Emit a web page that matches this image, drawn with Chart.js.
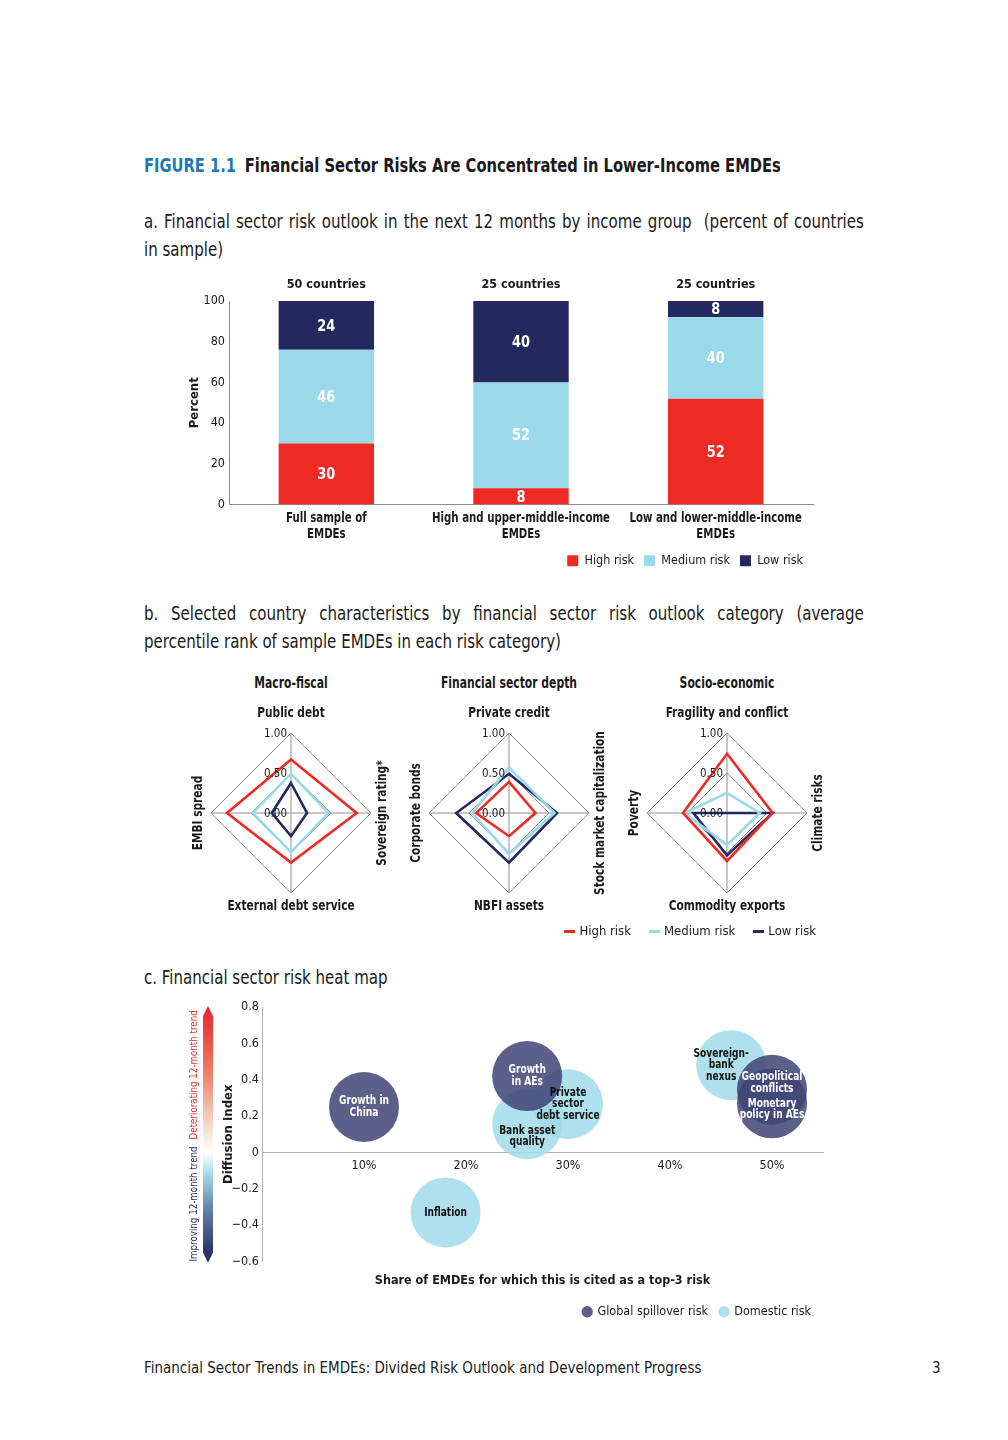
<!DOCTYPE html>
<html>
<head>
<meta charset="utf-8">
<script src="https://cdn.jsdelivr.net/npm/chart.js@4.4.1/dist/chart.umd.min.js"></script>
<style>
  body { margin: 0; width: 1008px; height: 1440px; background: #fff; position: relative; color: #1a1a1a;
         font-family: "DejaVu Sans Condensed", "Liberation Sans Narrow", sans-serif; }
  .abs { position: absolute; }
  .sq { transform-origin: 0 50%; }
  .title { left: 144px; top: 153px; font-size: 19px; line-height: 24px; font-weight: bold; white-space: nowrap; transform: scaleX(0.86); }
  .title span { color: #1f78b8; margin-right: 10px; }
  .sub { left: 144px; width: 818px; font-size: 19px; line-height: 28px; white-space: nowrap; transform: scaleX(0.88); }
  .just { text-align: justify; text-align-last: justify; }
  .head { width: 200px; text-align: center; font-size: 15px; line-height: 20px; font-weight: bold; top: 673px;
          transform-origin: 50% 50%; transform: scaleX(0.8); }
  .legb { top: 922px; right: 192px; font-size: 13px; line-height: 18px; display: flex; align-items: center; }
  .legb i { display: inline-block; width: 11px; height: 3px; margin: 0 4px 0 0; }
  .legb b { font-weight: normal; margin-right: 18px; }
  .foot { left: 144px; top: 1358px; font-size: 15px; line-height: 20px; }
  canvas { position: absolute; }
</style>
</head>
<body>

<div class="abs sq title"><span>FIGURE 1.1</span>Financial Sector Risks Are Concentrated in Lower-Income EMDEs</div>

<div class="abs sq sub just" style="top:207px">a. Financial sector risk outlook in the next 12 months by income group&nbsp; (percent of countries</div>
<div class="abs sq sub" style="top:235px">in sample)</div>

<div class="abs" style="left:180px;top:270px;width:650px;height:307px"><canvas id="barChart"></canvas></div>

<div class="abs sq sub just" style="top:599px">b. Selected country characteristics by financial sector risk outlook category (average</div>
<div class="abs sq sub" style="top:627px">percentile rank of sample EMDEs in each risk category)</div>

<div class="abs head" style="left:191px">Macro-fiscal</div>
<div class="abs head" style="left:409px">Financial sector depth</div>
<div class="abs head" style="left:627px">Socio-economic</div>

<div class="abs" style="left:182px;top:703px;width:218px;height:220px"><canvas id="radarMacro"></canvas></div>
<div class="abs" style="left:400px;top:703px;width:218px;height:220px"><canvas id="radarDepth"></canvas></div>
<div class="abs" style="left:618px;top:703px;width:218px;height:220px"><canvas id="radarSocio"></canvas></div>

<div class="abs legb">
  <i style="background:#ee2a24"></i><b>High risk</b>
  <i style="background:#9ad9ea"></i><b>Medium risk</b>
  <i style="background:#23285e"></i><b style="margin-right:0">Low risk</b>
</div>

<div class="abs sq sub" style="top:963px">c. Financial sector risk heat map</div>

<div class="abs" style="left:180px;top:995px;width:660px;height:333px"><canvas id="bubbleChart"></canvas></div>

<div class="abs foot">Financial Sector Trends in EMDEs: Divided Risk Outlook and Development Progress</div>
<div class="abs foot" style="left:932px">3</div>

<script>
const FONT = '"DejaVu Sans Condensed", "Liberation Sans Narrow", sans-serif';
Chart.defaults.font.family = FONT;
Chart.defaults.color = '#1a1a1a';
Chart.defaults.animation = false;

// ---- panel a data
const incomeGroups = [["Full sample of", "EMDEs"], ["High and upper-middle-income", "EMDEs"], ["Low and lower-middle-income", "EMDEs"]];
const sampleSizes = ["50 countries", "25 countries", "25 countries"];
const highRisk = [30, 8, 52];
const mediumRisk = [46, 52, 40];
const lowRisk = [24, 40, 8];
const percentTicks = [0, 20, 40, 60, 80, 100];

// ---- panel b data (average percentile rank)
const macroLabels = ["Public debt", "Sovereign rating*", "External debt service", "EMBI spread"];
const macroHigh = [0.67, 0.82, 0.62, 0.80];
const macroMedium = [0.49, 0.47, 0.49, 0.48];
const macroLow = [0.375, 0.20, 0.29, 0.24];

const depthLabels = ["Private credit", "Stock market capitalization", "NBFI assets", "Corporate bonds"];
const depthHigh = [0.39, 0.33, 0.29, 0.41];
const depthMedium = [0.57, 0.57, 0.51, 0.46];
const depthLow = [0.49, 0.60, 0.62, 0.66];

const socioLabels = ["Fragility and conflict", "Climate risks", "Commodity exports", "Poverty"];
const socioHigh = [0.74, 0.57, 0.60, 0.55];
const socioMedium = [0.25, 0.41, 0.40, 0.53];
const socioLow = [0, 0.57, 0.53, 0.42];

// ---- panel c data
const globalNames = [["Growth in", "China"], ["Growth", "in AEs"], ["Geopolitical", "conflicts"], ["Monetary", "policy in AEs"]];
const globalShare = [0.10, 0.26, 0.50, 0.50];
const globalDiffusion = [0.25, 0.42, 0.345, 0.27];
const domesticNames = [["Inflation"], ["Private", "sector", "debt service"], ["Bank asset", "quality"], ["Sovereign-", "bank", "nexus"]];
const domesticShare = [0.18, 0.30, 0.26, 0.46];
const domesticDiffusion = [-0.33, 0.265, 0.155, 0.48];
const bubbleRadius = 35;

const RED = '#ee2a24', LIGHT = '#9ad9ea', NAVY = '#23285e';

// text squeezed along its own direction, to imitate a condensed face
function squeeze(ctx, text, x, y, k, rot) {
  ctx.save();
  ctx.translate(x, y);
  if (rot) ctx.rotate(rot);
  ctx.scale(k, 1);
  ctx.fillText(text, 0, 0);
  ctx.restore();
}

// ================= panel a
const barLabels = {
  id: 'barLabels',
  afterDatasetsDraw(chart) {
    const ctx = chart.ctx;
    ctx.save();
    ctx.font = 'bold 16px ' + FONT;
    ctx.fillStyle = '#fff';
    ctx.textAlign = 'center';
    ctx.textBaseline = 'middle';
    chart.data.datasets.forEach((ds, i) => {
      chart.getDatasetMeta(i).data.forEach((bar, j) => {
        const p = bar.getProps(['x', 'y', 'base'], true);
        squeeze(ctx, String(ds.data[j]), p.x, (p.y + p.base) / 2 + 1, 0.9);
      });
    });
    // category names under the axis, condensed
    const xs = chart.scales.x;
    ctx.fillStyle = '#1a1a1a';
    ctx.font = 'bold 13.5px ' + FONT;
    incomeGroups.forEach((lines, i) => {
      const x = xs.getPixelForTick(i);
      lines.forEach((ln, k) => squeeze(ctx, ln, x, xs.top + 14 + k * 16, 0.84));
    });
    ctx.restore();
  }
};

new Chart(document.getElementById('barChart'), {
  type: 'bar',
  data: {
    labels: incomeGroups,
    datasets: [
      { label: 'High risk', data: highRisk, backgroundColor: RED, borderWidth: 0 },
      { label: 'Medium risk', data: mediumRisk, backgroundColor: LIGHT, borderWidth: 0 },
      { label: 'Low risk', data: lowRisk, backgroundColor: NAVY, borderWidth: 0 }
    ]
  },
  options: {
    responsive: true,
    maintainAspectRatio: false,
    layout: { padding: { right: 17 } },
    datasets: { bar: { categoryPercentage: 1, barPercentage: 0.49 } },
    scales: {
      x: {
        stacked: true,
        grid: { display: false, drawTicks: false },
        border: { color: '#8c8c8c' },
        ticks: { display: false },
        afterFit: s => { s.height = 40; }
      },
      xTop: {
        type: 'category',
        position: 'top',
        labels: sampleSizes,
        grid: { display: false, drawTicks: false },
        border: { display: false },
        ticks: { padding: 9, font: { size: 12.5, weight: 'bold' } },
        afterFit: s => { s.height = 31; }
      },
      y: {
        stacked: true,
        min: 0, max: 100,
        afterBuildTicks: s => { s.ticks = percentTicks.map(v => ({ value: v })); },
        grid: { display: false, drawTicks: false },
        border: { color: '#8c8c8c' },
        ticks: { padding: 4, font: { size: 12.5 } },
        title: { display: true, text: 'Percent', font: { size: 13, weight: 'bold' }, padding: { top: 7, bottom: 0 } },
        afterFit: s => { s.width = 49; }
      }
    },
    plugins: {
      legend: {
        position: 'bottom',
        align: 'end',
        labels: { boxWidth: 11, boxHeight: 11, padding: 10, font: { size: 12.5 }, color: '#1a1a1a' }
      },
      tooltip: { enabled: false }
    }
  },
  plugins: [barLabels]
});

// ================= panel b
const labelGap = [20, 11, 13, 13];
const radarText = {
  id: 'radarText',
  afterDraw(chart) {
    const r = chart.scales.r;
    const ctx = chart.ctx;
    ctx.save();
    ctx.fillStyle = '#1a1a1a';
    ctx.font = '12.5px ' + FONT;
    ctx.textAlign = 'right';
    ctx.textBaseline = 'middle';
    r.ticks.forEach(t => {
      const d = r.getDistanceFromCenterForValue(t.value);
      squeeze(ctx, t.value.toFixed(2), r.xCenter - 4, r.yCenter - d + 1, 0.92);
    });
    ctx.font = 'bold 14px ' + FONT;
    ctx.textAlign = 'center';
    chart.data.labels.forEach((lab, i) => {
      const p = r.getPointPosition(i, r.drawingArea + labelGap[i]);
      squeeze(ctx, lab, p.x, p.y, 0.84, i % 2 === 1 ? -Math.PI / 2 : 0);
    });
    ctx.restore();
  }
};

function radar(id, labels, high, medium, low) {
  const line = (label, data, color) => ({
    label, data, borderColor: color, backgroundColor: color, borderWidth: 2.6,
    pointRadius: 0, fill: false, borderJoinStyle: 'miter'
  });
  new Chart(document.getElementById(id), {
    type: 'radar',
    data: {
      labels,
      datasets: [line('High risk', high, RED), line('Medium risk', medium, LIGHT), line('Low risk', low, NAVY)]
    },
    options: {
      responsive: true,
      maintainAspectRatio: false,
      layout: { padding: { left: 29, right: 29, top: 30, bottom: 30 }, autoPadding: false },
      elements: { line: { tension: 0 } },
      scales: {
        r: {
          min: 0, max: 1,
          ticks: { stepSize: 0.5, display: false },
          pointLabels: { display: false },
          grid: { color: '#8f8f8f', lineWidth: 1 },
          angleLines: { color: '#8f8f8f', lineWidth: 1 }
        }
      },
      plugins: { legend: { display: false }, tooltip: { enabled: false } }
    },
    plugins: [radarText]
  });
}
radar('radarMacro', macroLabels, macroHigh, macroMedium, macroLow);
radar('radarDepth', depthLabels, depthHigh, depthMedium, depthLow);
radar('radarSocio', socioLabels, socioHigh, socioMedium, socioLow);

// ================= panel c
// label nudges [dx, dy] so overlapping bubbles keep readable names
const nameShift = [
  [[0, 0], [0, 0], [0, -7], [0, 6]],
  [[0, 0], [0, 0], [0, 12], [-10, 0]]
];
const bubbleText = {
  id: 'bubbleText',
  afterDatasetsDraw(chart) {
    const ctx = chart.ctx;
    const names = [globalNames, domesticNames];
    const colors = ['#ffffff', '#111111'];
    ctx.save();
    ctx.font = 'bold 12px ' + FONT;
    ctx.textAlign = 'center';
    ctx.textBaseline = 'middle';
    chart.data.datasets.forEach((ds, i) => {
      ctx.fillStyle = colors[i];
      chart.getDatasetMeta(i).data.forEach((pt, j) => {
        const lines = names[i][j];
        const [dx, dy] = nameShift[i][j];
        lines.forEach((ln, k) => {
          squeeze(ctx, ln, pt.x + dx, pt.y + dy + (k - (lines.length - 1) / 2) * 11.5, 0.84);
        });
      });
    });
    ctx.restore();
  },
  afterDraw(chart) {
    const ctx = chart.ctx;
    const { top, bottom } = chart.chartArea;
    const zero = chart.scales.y.getPixelForValue(0);
    ctx.save();
    const g = ctx.createLinearGradient(0, top, 0, bottom);
    g.addColorStop(0, '#e8232a');
    g.addColorStop(0.25, '#f07a60');
    g.addColorStop(0.45, '#f9d3c6');
    g.addColorStop((zero - top) / (bottom - top), '#ffffff');
    g.addColorStop(0.66, '#9fd9ea');
    g.addColorStop(0.8, '#5f7ea6');
    g.addColorStop(1, '#1f2459');
    ctx.fillStyle = g;
    ctx.beginPath();
    ctx.moveTo(28, top - 1);
    ctx.lineTo(33, top + 9);
    ctx.lineTo(33, bottom - 9);
    ctx.lineTo(28, bottom + 1);
    ctx.lineTo(23, bottom - 9);
    ctx.lineTo(23, top + 9);
    ctx.closePath();
    ctx.fill();

    ctx.font = '11px ' + FONT;
    ctx.textBaseline = 'middle';
    ctx.textAlign = 'left';
    ctx.fillStyle = '#e2302b';
    squeeze(ctx, 'Deteriorating 12-month trend', 14, zero - 13, 0.88, -Math.PI / 2);
    ctx.textAlign = 'right';
    ctx.fillStyle = '#2a2f66';
    squeeze(ctx, 'Improving 12-month trend', 14, zero - 6, 0.88, -Math.PI / 2);
    ctx.restore();
  }
};

const toPoints = (xs, ys) => xs.map((x, i) => ({ x, y: ys[i], r: bubbleRadius }));
const fmtDiffusion = v => {
  const s = Math.abs(v) < 1e-9 ? '0' : Math.abs(v).toFixed(1);
  return v < -1e-9 ? '\u2212' + s : s;
};

new Chart(document.getElementById('bubbleChart'), {
  type: 'bubble',
  data: {
    datasets: [
      { label: 'Global spillover risk', data: toPoints(globalShare, globalDiffusion),
        backgroundColor: 'rgba(64, 69, 118, 0.86)', borderWidth: 0 },
      { label: 'Domestic risk', data: toPoints(domesticShare, domesticDiffusion),
        backgroundColor: 'rgba(160, 218, 234, 0.85)', borderWidth: 0 }
    ]
  },
  options: {
    responsive: true,
    maintainAspectRatio: false,
    layout: { padding: { top: 12, right: 17 }, autoPadding: false },
    scales: {
      x: {
        type: 'linear', min: 0, max: 0.55,
        grid: { display: false, drawTicks: false },
        border: { display: false },
        ticks: { display: false },
        title: { display: true, text: 'Share of EMDEs for which this is cited as a top-3 risk',
                 font: { size: 12.5, weight: 'bold' }, padding: { top: 0, bottom: 5 } },
        afterFit: s => { s.height = 32; }
      },
      x2: {
        type: 'linear', min: 0, max: 0.55,
        position: { y: 0 },
        grid: { display: false, drawTicks: false },
        border: { color: '#b3b3b3' },
        ticks: { stepSize: 0.1, includeBounds: false, padding: 6, font: { size: 12.5 },
                 callback: v => v < 0.05 ? '' : Math.round(v * 100) + '%' }
      },
      y: {
        min: -0.6, max: 0.8,
        grid: { display: false, drawTicks: false },
        border: { color: '#b3b3b3' },
        ticks: { stepSize: 0.2, padding: 3, font: { size: 12.5 }, callback: fmtDiffusion },
        title: { display: true, text: 'Diffusion Index', font: { size: 13, weight: 'bold' }, padding: { top: 41, bottom: 0 } },
        afterFit: s => { s.width = 82; }
      }
    },
    plugins: {
      legend: {
        position: 'bottom',
        align: 'end',
        labels: { usePointStyle: true, pointStyle: 'circle', boxWidth: 8, boxHeight: 8, padding: 12,
                  font: { size: 12.5 }, color: '#1a1a1a' }
      },
      tooltip: { enabled: false }
    }
  },
  plugins: [bubbleText]
});
</script>
</body>
</html>
